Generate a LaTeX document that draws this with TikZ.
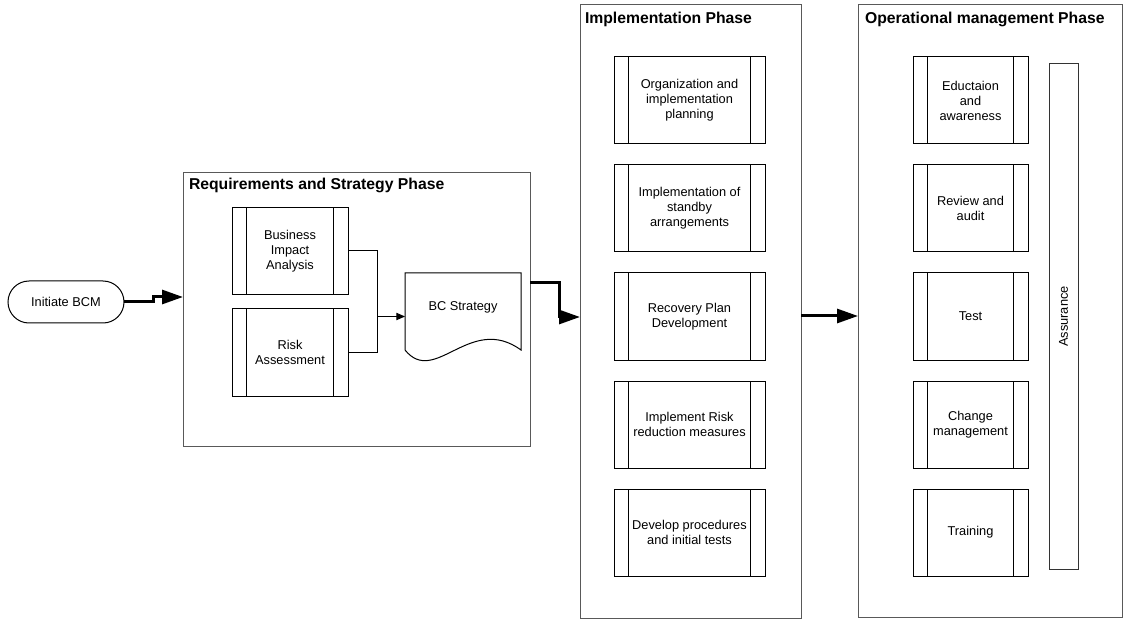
\documentclass[tikz,border=0pt]{standalone}
\usepackage{fontspec}
\setmainfont{Liberation Sans}
\usetikzlibrary{arrows.meta,calc}
\begin{document}
\begin{tikzpicture}[x=0.75pt,y=-0.75pt,
  every node/.style={font=\fontsize{9.6}{11.25}\selectfont, align=center, inner sep=0pt, outer sep=0pt},
  phase/.style={draw=black!65, line width=0.75pt},
  phasetitle/.style={font=\fontsize{11.8}{14}\selectfont\bfseries, anchor=base west},
  subproc/.style={draw, line width=0.75pt, minimum height=65.25pt, path picture={
     \draw[line width=0.75pt] ([xshift=10.9pt]path picture bounding box.north west) -- ([xshift=10.9pt]path picture bounding box.south west);
     \draw[line width=0.75pt] ([xshift=-10.9pt]path picture bounding box.north east) -- ([xshift=-10.9pt]path picture bounding box.south east);}},
  smallproc/.style={subproc, minimum width=87pt},
  implproc/.style={subproc, minimum width=113.25pt},
  opproc/.style={subproc, minimum width=86.25pt},
  bigarrow/.style={line width=2.25pt, -{Triangle[length=15.75pt,width=10.5pt]}},
  thinarrow/.style={line width=0.75pt, -{Triangle[length=6.5pt,width=5.5pt]}},
  link/.style={line width=0.75pt}
]
\useasboundingbox (0,0) rectangle (1128,627);

% start terminal
\node[draw, line width=0.75pt, rounded corners=15.75pt, minimum width=87pt, minimum height=31.5pt] (init) at (66,302) {Initiate BCM};

% phase containers
\node[phase, minimum width=260.25pt, minimum height=204.75pt] (req) at (356.5,309.5) {};
\node[phase, minimum width=165.75pt, minimum height=459.75pt] (impl) at (690.5,311.5) {};
\node[phase, minimum width=198pt, minimum height=459pt] (op) at (990,311) {};

\node[phasetitle] (reqtitle) at (189,190) {Requirements and Strategy Phase};
\node[phasetitle] (impltitle) at (585,24) {Implementation Phase};
\node[phasetitle] (optitle) at (865,24) {Operational management Phase};

% requirements and strategy
\node[smallproc] (bia) at (290,251) {Business\\Impact\\Analysis};
\node[smallproc] (risk) at (290,352.5) {Risk\\Assessment};

\node[minimum width=87pt, minimum height=65.25pt] (bcs) at (463,316.5) {};
\draw[line width=0.75pt] ($(bcs.south west)+(0,-10)$) -- (bcs.north west) -- (bcs.north east)
  -- ($(bcs.south east)+(0,-10)$)
  .. controls ($(bcs.south east)+(-51,-47)$) and ($(bcs.south west)+(30,27)$) .. ($(bcs.south west)+(0,-10)$);
\node (bcslabel) at (463,307) {BC Strategy};

\coordinate (jn) at (377,316.5);
\draw[link] (bia.east) -| (jn);
\draw[link] (risk.east) -| (jn);
\draw[thinarrow] (jn) -- (bcs.west);

% implementation
\node[implproc] (im1) at (689.5,100.5) {Organization and\\implementation\\planning};
\node[implproc] (im2) at (689.5,208.5) {Implementation of\\standby\\arrangements};
\node[implproc] (im3) at (689.5,316.5) {Recovery Plan\\Development};
\node[implproc] (im4) at (689.5,424.5) {Implement Risk\\reduction measures};
\node[implproc] (im5) at (689.5,532.5) {Develop procedures\\and initial tests};

% operational management
\node[opproc] (op1) at (970.5,100.5) {Eductaion\\and\\awareness};
\node[opproc] (op2) at (970.5,208.5) {Review and\\audit};
\node[opproc] (op3) at (970.5,316.5) {Test};
\node[opproc] (op4) at (970.5,424.5) {Change\\management};
\node[opproc] (op5) at (970.5,532.5) {Training};
\node[draw=black!80, line width=0.75pt, rotate=90, minimum width=378.75pt, minimum height=21.75pt] (assur) at (1063.5,316.5) {Assurance};

% flow between phases
\coordinate (kink1) at (153,297);
\draw[bigarrow] (init.east) -| (kink1) -- (kink1 -| req.west);
\coordinate (kink2) at (559,317);
\draw[bigarrow] ($(req.north east)+(0,110)$) -| (kink2) -- (kink2 -| impl.west);
\coordinate (lvl) at (801,316);
\draw[bigarrow] (impl.east |- lvl) -- (op.west |- lvl);
\end{tikzpicture}
\end{document}
